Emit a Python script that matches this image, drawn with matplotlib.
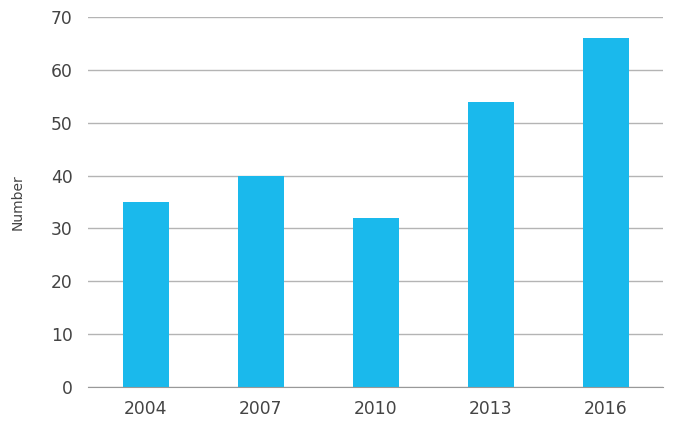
import matplotlib; matplotlib.use('Agg'); import matplotlib.pyplot as plt
import numpy as np

years = ['2004', '2007', '2010', '2013', '2016']
counts = [35, 40, 32, 54, 66]
yticks = [0, 10, 20, 30, 40, 50, 60, 70]

plt.rcParams['font.family'] = ['DejaVu Sans']

fig = plt.figure(figsize=(6.79, 4.28), dpi=100)
ax = fig.add_axes([88 / 679, 1 - 387 / 428, (663 - 88) / 679, (387 - 17) / 428])
x = np.arange(len(years))
ax.bar(x, counts, width=0.4, color='#1ab9ec', zorder=3)
ax.set_xlim(-0.5, len(years) - 0.5)
ax.set_ylim(0, 70)
ax.set_yticks(yticks)
ax.set_xticks(x, years)
ax.grid(axis='y', color='#b4b4b4', lw=1, zorder=0)
for s in ['top', 'right', 'left']:
    ax.spines[s].set_visible(False)
ax.spines['bottom'].set_color('#999999')
ax.spines['bottom'].set_zorder(4)
ax.tick_params(length=0, labelsize=12.3, labelcolor='#444444')
ax.tick_params(axis='y', pad=11)
ax.tick_params(axis='x', pad=9)
ax.set_ylabel('Number', fontsize=10, color='#444444', labelpad=19)
fig.savefig('out.png', dpi=100)
